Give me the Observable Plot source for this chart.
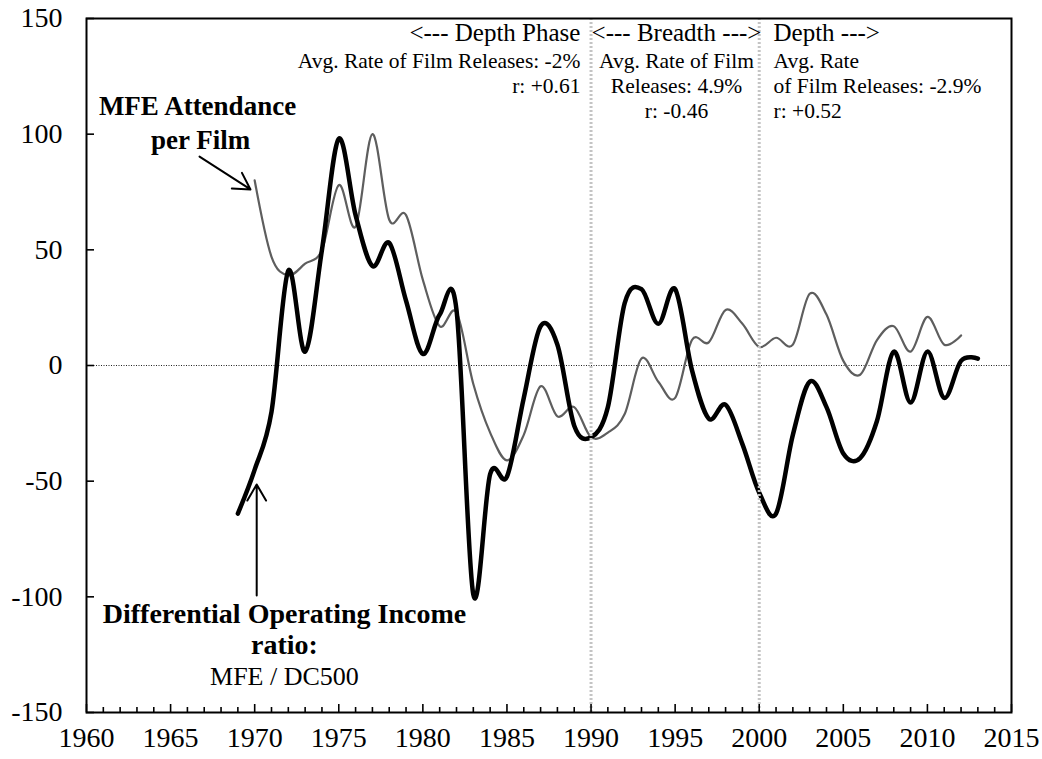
<!DOCTYPE html>
<html>
<head>
<meta charset="utf-8">
<script src="https://cdn.jsdelivr.net/npm/d3@7"></script>
<script src="https://cdn.jsdelivr.net/npm/@observablehq/plot@0.6"></script>
<style>
  html, body { margin: 0; padding: 0; background: #fff; }
</style>
</head>
<body>
<div id="chart"></div>
<script>
// ---------- data ----------
const dioYears = [1969, 1970, 1971, 1972, 1973, 1974, 1975, 1976, 1977, 1978, 1979, 1980, 1981, 1982, 1983, 1984, 1985, 1986, 1987, 1988, 1989, 1990, 1991, 1992, 1993, 1994, 1995, 1996, 1997, 1998, 1999, 2000, 2001, 2002, 2003, 2004, 2005, 2006, 2007, 2008, 2009, 2010, 2011, 2012, 2013];
const dioValues = [-64, -45, -20, 41, 6, 50, 98, 65, 43, 53, 28, 5, 22, 24, -99, -47, -48, -14, 17, 9, -26, -31, -18, 27, 33, 18, 33, -2, -23, -17, -34, -55, -64, -30, -7, -18, -38, -40, -24, 6, -16, 6, -14, 2, 3];

const attYears = [1970, 1971, 1972, 1973, 1974, 1975, 1976, 1977, 1978, 1979, 1980, 1981, 1982, 1983, 1984, 1985, 1986, 1987, 1988, 1989, 1990, 1991, 1992, 1993, 1994, 1995, 1996, 1997, 1998, 1999, 2000, 2001, 2002, 2003, 2004, 2005, 2006, 2007, 2008, 2009, 2010, 2011, 2012];
const attValues = [80, 47, 39, 44, 50, 78, 60, 100, 63, 65, 37, 17, 23, -8, -29, -41, -30, -9, -22, -18, -31, -29, -21, 3, -7, -14, 11, 10, 24, 18, 8, 12, 9, 31, 22, 2, -4, 11, 17, 6, 21, 9, 13];

const xTickLabels = [1960, 1965, 1970, 1975, 1980, 1985, 1990, 1995, 2000, 2005, 2010, 2015];
const yTickLabels = [-150, -100, -50, 0, 50, 100, 150];
const phaseBoundaries = [1990, 2000];

const phaseHeadings = ["<--- Depth Phase", "<--- Breadth --->", "Depth --->"];
const phaseNotes = [
  ["Avg. Rate of Film Releases: -2%", "r: +0.61"],
  ["Avg. Rate of Film", "Releases: 4.9%", "r: -0.46"],
  ["Avg. Rate", "of Film Releases: -2.9%", "r: +0.52"]
];
const attendanceLabel = ["MFE Attendance", "per Film"];
const dioLabel = ["Differential Operating Income", "ratio:"];
const dioSubLabel = ["MFE / DC500"];

// ---------- layout (annotation anchors in data units) ----------
const W = 1042, H = 759, mL = 86, mR = 31, mT = 18, mB = 47;
const plotW = W - mL - mR, plotH = H - mT - mB;
const FONT = "Liberation Serif";

const phaseX = [1989.37, 1995.08, 2000.85];
const phaseAnchor = ["end", "middle", "start"];
const phaseLineY = [140.1, 128.8, 118.0, 107.2];

const attLabelPos = [[1966.6, 108.1], [1966.78, 93.8]];
const dioLabelPos = [[1971.77, -111.1], [1971.77, -124.9]];
const dioSubPos = [[1971.77, -138.3]];

const arrowPos = [
  {x1: 1966.72, y1: 90.3, x2: 1969.75, y2: 76.1},
  {x1: 1970.12, y1: -99.4, x2: 1970.12, y2: -51.4}
];

// ---------- build rows ----------
const dio = dioYears.map((y, i) => ({year: y, value: dioValues[i]}));
const att = attYears.map((y, i) => ({year: y, value: attValues[i]}));

const phaseText = [];
phaseHeadings.forEach((t, i) => phaseText.push({text: t, x: phaseX[i], y: phaseLineY[0], anchor: phaseAnchor[i], size: 25}));
phaseNotes.forEach((lines, i) => lines.forEach((t, j) => phaseText.push({text: t, x: phaseX[i], y: phaseLineY[j + 1], anchor: phaseAnchor[i], size: 21.5})));

const boldLabels = [
  ...attendanceLabel.map((t, i) => ({text: t, x: attLabelPos[i][0], y: attLabelPos[i][1], size: 27})),
  ...dioLabel.map((t, i) => ({text: t, x: dioLabelPos[i][0], y: dioLabelPos[i][1], size: 28}))
];
const plainLabels = dioSubLabel.map((t, i) => ({text: t, x: dioSubPos[i][0], y: dioSubPos[i][1]}));

const minorYears = d3.range(1961, 2015).filter(y => y % 5 !== 0);

const phaseTextMarks = ["start", "middle", "end"].map(a =>
  Plot.text(phaseText.filter(d => d.anchor === a), {x: "x", y: "y", text: "text", textAnchor: a, lineAnchor: "bottom", fontSize: "size", fontFamily: FONT, fill: "#000"})
);

const chart = Plot.plot({
  width: W,
  height: H,
  marginLeft: mL,
  marginRight: mR,
  marginTop: mT,
  marginBottom: mB,
  style: {fontFamily: FONT, fontSize: "28px", background: "#fff", color: "#000"},
  x: {domain: [1960, 2015], label: null},
  y: {domain: [-150, 150], label: null},
  marks: [
    Plot.axisX({ticks: xTickLabels, tickSize: 0, tickPadding: 15, tickFormat: d => String(d), label: null, fontSize: 28}),
    Plot.axisY({ticks: yTickLabels, tickSize: 0, tickPadding: 24, tickFormat: d => String(d), label: null, fontSize: 28}),
    Plot.ruleY([0], {stroke: "#222", strokeWidth: 1, strokeDasharray: "1,1.5"}),
    Plot.line(att, {x: "year", y: "value", curve: "cardinal", stroke: "#5e5e5e", strokeWidth: 2.2}),
    Plot.line(dio, {x: "year", y: "value", curve: "cardinal", stroke: "#000", strokeWidth: 4.5}),
    Plot.ruleX(phaseBoundaries, {stroke: "#c4c4c4", strokeWidth: 3, strokeDasharray: "2,2"}),
    Plot.tickX(minorYears, {x: d => d, insetTop: plotH - 5, stroke: "#000", strokeWidth: 1.6}),
    Plot.tickX(xTickLabels, {x: d => d, insetTop: plotH - 8, stroke: "#000", strokeWidth: 1.6}),
    Plot.tickY(yTickLabels, {y: d => d, insetRight: plotW - 8, stroke: "#000", strokeWidth: 1.6}),
    Plot.arrow(arrowPos, {x1: "x1", y1: "y1", x2: "x2", y2: "y2", stroke: "#000", strokeWidth: 2, headLength: 14, headAngle: 60}),
    ...phaseTextMarks,
    Plot.text(boldLabels, {x: "x", y: "y", text: "text", fontSize: "size", lineAnchor: "bottom", fontWeight: "bold", fontFamily: FONT, fill: "#000"}),
    Plot.text(plainLabels, {x: "x", y: "y", text: "text", lineAnchor: "bottom", fontSize: 26, fontFamily: FONT, fill: "#000"}),
    Plot.frame({stroke: "#000", strokeWidth: 2})
  ]
});
document.getElementById("chart").appendChild(chart);
</script>
</body>
</html>
